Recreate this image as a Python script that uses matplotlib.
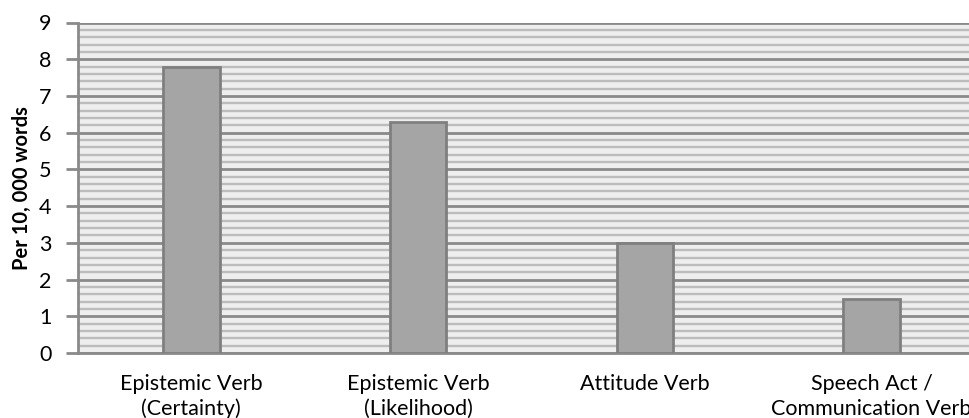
import matplotlib.pyplot as plt
import numpy as np
from matplotlib.ticker import MultipleLocator

plt.rcParams['font.family'] = ['Lato', 'DejaVu Sans']

# verb categories and their frequency per 10,000 words
categories = ["Epistemic Verb\n(Certainty)", "Epistemic Verb\n(Likelihood)",
              "Attitude Verb", "Speech Act /\nCommunication Verb"]
values = [7.8, 6.3, 3.0, 1.48]
yticks = [0, 1, 2, 3, 4, 5, 6, 7, 8, 9]

fig = plt.figure(figsize=(9.69, 4.18), dpi=100)
# axes runs a bit past the right edge of the figure
ax = fig.add_axes([78/969, 65/418, 907/969, 330.5/418])
ax.set_facecolor("#eeeeee")

x = np.arange(len(categories))
ax.bar(x, values, width=0.25, color="#a5a5a5", edgecolor="#7f7f7f", linewidth=2, zorder=3)

ax.set_xlim(-0.5, 3.5)
ax.set_ylim(0, 9)
ax.set_yticks(yticks)
ax.yaxis.set_minor_locator(MultipleLocator(0.2))
ax.grid(which="major", axis="y", color="#8a8a8a", linewidth=2, zorder=1)
ax.grid(which="minor", axis="y", color="#bcbcbc", linewidth=1.7, zorder=1)
ax.set_axisbelow(True)

ax.set_xticks(x)
ax.set_xticklabels(categories, fontsize=15.5, linespacing=1.3)
ax.tick_params(axis="x", length=0, pad=15)
ax.tick_params(axis="y", which="major", length=9, width=2, color="#8a8a8a", labelsize=15.5, pad=10)
ax.tick_params(axis="y", which="minor", length=0)

for side in ["top", "right"]:
    ax.spines[side].set_visible(False)
ax.spines["left"].set_color("#8a8a8a")
ax.spines["left"].set_linewidth(2)
ax.spines["bottom"].set_color("#8a8a8a")
ax.spines["bottom"].set_linewidth(2)

ax.set_ylabel("Per 10, 000 words", fontsize=14.5, fontweight="bold", labelpad=5)

plt.savefig("out.png", dpi=100)
